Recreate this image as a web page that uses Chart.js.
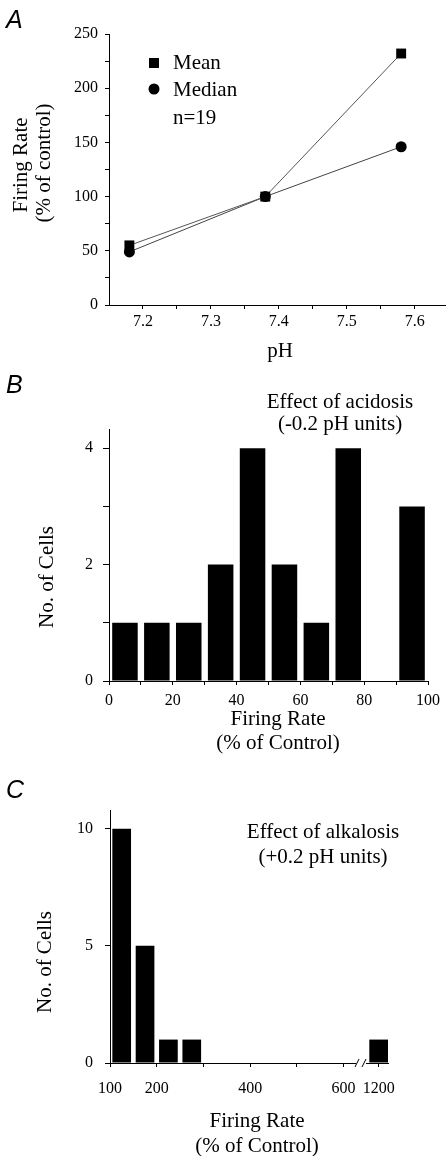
<!DOCTYPE html>
<html>
<head>
<meta charset="utf-8">
<script src="https://cdn.jsdelivr.net/npm/chart.js@4/dist/chart.umd.min.js"></script>
<style>
  html, body { margin: 0; padding: 0; background: #fff; }
  #wrap { position: relative; width: 446px; height: 1156px; overflow: hidden; }
  canvas { position: absolute; left: 0; }
</style>
</head>
<body>
<div id="wrap">
  <canvas id="cA" width="446" height="370" style="top:0px"></canvas>
  <canvas id="cB" width="446" height="415" style="top:345px"></canvas>
  <canvas id="cC" width="446" height="396" style="top:760px"></canvas>
</div>
<script>
// ---- Panel A: firing rate against pH ----
const phValues   = [7.18, 7.38, 7.58];
const meanRate   = [55, 100, 232];
const medianRate = [49, 100, 146];
const phTicks    = [7.2, 7.25, 7.3, 7.35, 7.4, 7.45, 7.5, 7.55, 7.6];
const rateTicks  = [0, 25, 50, 75, 100, 125, 150, 175, 200, 225, 250];

// ---- Panel B: acidosis histogram (bins of 10 %) ----
const acidBinCenters = [5, 15, 25, 35, 45, 55, 65, 75, 85, 95];
const acidCounts     = [1, 1, 1, 2, 4, 2, 1, 4, 0, 3];
const acidXTicks     = [0, 10, 20, 30, 40, 50, 60, 70, 80, 90, 100];
const acidYTicks     = [0, 1, 2, 3, 4];

// ---- Panel C: alkalosis histogram (bins of 50 %, broken axis above 600) ----
const alkBinCenters = [125, 175, 225, 275, 1200];
const alkCounts     = [10, 5, 1, 1, 1];
const alkXTicks     = [100, 200, 300, 400, 500, 600, 1200];
const alkXLabels    = [100, 200, 400, 600, 1200];
const alkYTicks     = [0, 5, 10];

// broken x axis: values past the break are shifted left
const BREAK_AT = 600, BREAK_SHIFT = 525;
const alkPos = v => (v > BREAK_AT ? v - BREAK_SHIFT : v);
const alkVal = p => (p > BREAK_AT + 10 ? p + BREAK_SHIFT : p);

const SERIF = '"Liberation Serif", "Times New Roman", serif';
const SANS  = '"Liberation Sans", Arial, sans-serif';
Chart.defaults.font.family = SERIF;
Chart.defaults.color = '#000';
Chart.defaults.animation = false;

// free text, rotated titles and legend markers drawn on top of each panel
const panelText = {
  id: 'panelText',
  afterDraw(chart, args, opts) {
    const ctx = chart.ctx;
    (opts.items || []).forEach(it => {
      ctx.save();
      ctx.fillStyle = '#000';
      ctx.strokeStyle = '#000';
      ctx.translate(it.x, it.y);
      if (it.rotate) ctx.rotate(it.rotate);
      if (it.marker === 'square') {
        ctx.fillRect(-5, -5, 10, 10);
      } else if (it.marker === 'circle') {
        ctx.beginPath(); ctx.arc(0, 0, 5.5, 0, Math.PI * 2); ctx.fill();
      } else if (it.marker === 'break') {
        ctx.fillStyle = '#fff';
        ctx.fillRect(-5, -2, 10, 4);
        ctx.lineWidth = 1;
        ctx.beginPath();
        ctx.moveTo(-6, 4); ctx.lineTo(-2, -4);
        ctx.moveTo(1, 4);  ctx.lineTo(5, -4);
        ctx.stroke();
      } else {
        ctx.font = it.font;
        ctx.textAlign = it.align || 'center';
        ctx.textBaseline = it.baseline || 'middle';
        ctx.fillText(it.text, 0, 0);
      }
      ctx.restore();
    });
  }
};

const tickFont = { family: SERIF, size: 16 };
const titleFont = '21px ' + SERIF;
const letterFont = 'italic 25px ' + SANS;

function axis(opts) {
  return Object.assign({
    type: 'linear',
    grid: { drawOnChartArea: false, drawTicks: true, tickLength: 5, color: '#000', lineWidth: 1 },
    border: { display: true, color: '#000', width: 1 },
  }, opts);
}

// ---------------- Panel A ----------------
new Chart(document.getElementById('cA'), {
  type: 'line',
  data: {
    datasets: [
      {
        label: 'Mean',
        data: phValues.map((x, i) => ({ x, y: meanRate[i] })),
        borderColor: '#555', borderWidth: 1,
        pointStyle: 'rect', pointRadius: 7, pointHoverRadius: 7,
        pointBackgroundColor: '#000', pointBorderColor: '#000', pointBorderWidth: 0,
        tension: 0, clip: false
      },
      {
        label: 'Median',
        data: phValues.map((x, i) => ({ x, y: medianRate[i] })),
        borderColor: '#444', borderWidth: 1,
        pointStyle: 'circle', pointRadius: 5.5, pointHoverRadius: 5.5,
        pointBackgroundColor: '#000', pointBorderColor: '#000', pointBorderWidth: 0,
        tension: 0, clip: false
      }
    ]
  },
  options: {
    responsive: false, devicePixelRatio: 1, events: [],
    layout: { autoPadding: false, padding: { top: 34, right: 0, left: 0, bottom: 0 } },
    plugins: {
      legend: { display: false }, tooltip: { enabled: false },
      panelText: {
        items: [
          { text: 'A', x: 6, y: 28, font: letterFont, align: 'left', baseline: 'alphabetic' },
          { text: 'Firing Rate', x: 21, y: 165, font: titleFont, rotate: -Math.PI / 2 },
          { text: '(% of control)', x: 44, y: 163, font: titleFont, rotate: -Math.PI / 2 },
          { text: 'pH', x: 280, y: 351, font: titleFont },
          { marker: 'square', x: 154, y: 63 },
          { marker: 'circle', x: 154, y: 89 },
          { text: 'Mean', x: 173, y: 63, font: titleFont, align: 'left' },
          { text: 'Median', x: 173, y: 90, font: titleFont, align: 'left' },
          { text: 'n=19', x: 173, y: 118, font: titleFont, align: 'left' }
        ]
      }
    },
    scales: {
      x: axis({
        min: 7.15, max: 7.646,
        afterBuildTicks: s => { s.ticks = phTicks.map(v => ({ value: v })); },
        afterFit: s => { s.height = 65; },
        grid: { drawOnChartArea: false, tickLength: 4, color: '#000' },
        ticks: {
          font: tickFont, padding: 3, autoSkip: false, maxRotation: 0,
          callback: v => (Math.abs(v * 10 - Math.round(v * 10)) < 1e-6 ? v.toFixed(1) : '')
        }
      }),
      y: axis({
        min: 0, max: 250,
        afterBuildTicks: s => { s.ticks = rateTicks.map(v => ({ value: v })); },
        afterFit: s => { s.width = 109; },
        grid: { drawOnChartArea: false, tickLength: 4, color: '#000' },
        ticks: { font: tickFont, padding: 7, autoSkip: false, callback: v => (v % 50 === 0 ? String(v) : '') }
      })
    }
  },
  plugins: [panelText]
});

// ---------------- Panel B ----------------
new Chart(document.getElementById('cB'), {
  type: 'bar',
  data: {
    datasets: [{
      data: acidBinCenters.map((x, i) => ({ x, y: acidCounts[i] })),
      backgroundColor: '#000', borderWidth: 0,
      barPercentage: 0.8, categoryPercentage: 1
    }]
  },
  options: {
    responsive: false, devicePixelRatio: 1, events: [],
    layout: { autoPadding: false, padding: { top: 84, right: 18, left: 0, bottom: 0 } },
    plugins: {
      legend: { display: false }, tooltip: { enabled: false },
      panelText: {
        items: [
          { text: 'B', x: 6, y: 48, font: letterFont, align: 'left', baseline: 'alphabetic' },
          { text: 'Effect of acidosis', x: 340, y: 57, font: titleFont },
          { text: '(-0.2 pH units)', x: 340, y: 79, font: titleFont },
          { text: 'No. of Cells', x: 47, y: 232, font: titleFont, rotate: -Math.PI / 2 },
          { text: 'Firing Rate', x: 278, y: 374, font: titleFont },
          { text: '(% of Control)', x: 278, y: 398, font: titleFont }
        ]
      }
    },
    scales: {
      x: axis({
        min: 0, max: 100, offset: false,
        afterBuildTicks: s => { s.ticks = acidXTicks.map(v => ({ value: v })); },
        afterFit: s => { s.height = 79; },
        grid: { drawOnChartArea: false, tickLength: 4, color: '#000', offset: false },
        ticks: { font: tickFont, padding: 6, autoSkip: false, maxRotation: 0, callback: v => (v % 20 === 0 ? String(v) : '') }
      }),
      y: axis({
        min: 0, max: 4.33,
        afterBuildTicks: s => { s.ticks = acidYTicks.map(v => ({ value: v })); },
        afterFit: s => { s.width = 109; },
        grid: { drawOnChartArea: false, tickLength: 6, color: '#000' },
        ticks: { font: tickFont, padding: 10, autoSkip: false, callback: v => (v % 2 === 0 ? String(v) : '') }
      })
    }
  },
  plugins: [panelText]
});

// ---------------- Panel C ----------------
new Chart(document.getElementById('cC'), {
  type: 'bar',
  data: {
    datasets: [{
      data: alkBinCenters.map((x, i) => ({ x: alkPos(x), y: alkCounts[i] })),
      backgroundColor: '#000', borderWidth: 0,
      barPercentage: 0.8, categoryPercentage: 1
    }]
  },
  options: {
    responsive: false, devicePixelRatio: 1, events: [],
    layout: { autoPadding: false, padding: { top: 50, right: 58, left: 0, bottom: 0 } },
    plugins: {
      legend: { display: false }, tooltip: { enabled: false },
      panelText: {
        items: [
          { text: 'C', x: 6, y: 38, font: letterFont, align: 'left', baseline: 'alphabetic' },
          { text: 'Effect of alkalosis', x: 323, y: 72, font: titleFont },
          { text: '(+0.2 pH units)', x: 323, y: 97, font: titleFont },
          { text: 'No. of Cells', x: 45, y: 202, font: titleFont, rotate: -Math.PI / 2 },
          { text: 'Firing Rate', x: 257, y: 361, font: titleFont },
          { text: '(% of Control)', x: 257, y: 386, font: titleFont },
          { marker: 'break', x: 361, y: 303 }
        ]
      }
    },
    scales: {
      x: axis({
        min: 100, max: 695, offset: false,
        afterBuildTicks: s => { s.ticks = alkXTicks.map(v => ({ value: alkPos(v) })); },
        afterFit: s => { s.height = 93; },
        grid: { drawOnChartArea: false, tickLength: 4, color: '#000', offset: false },
        ticks: {
          font: tickFont, padding: 12, autoSkip: false, maxRotation: 0,
          callback: v => { const real = alkVal(v); return alkXLabels.includes(real) ? String(real) : ''; }
        }
      }),
      y: axis({
        min: 0, max: 10.8,
        afterBuildTicks: s => { s.ticks = alkYTicks.map(v => ({ value: v })); },
        afterFit: s => { s.width = 110; },
        grid: { drawOnChartArea: false, tickLength: 5, color: '#000' },
        ticks: { font: tickFont, padding: 12, autoSkip: false, callback: v => String(v) }
      })
    }
  },
  plugins: [panelText]
});
</script>
</body>
</html>
